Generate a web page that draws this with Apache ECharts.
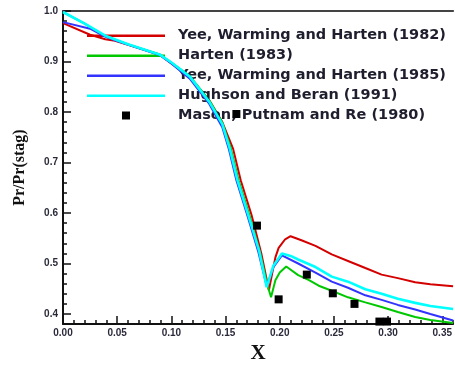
<!DOCTYPE html>
<html>
<head>
<meta charset="utf-8">
<script src="https://cdn.jsdelivr.net/npm/echarts@6/dist/echarts.min.js"></script>
<style>html,body{margin:0;padding:0;background:#fff;}#c{width:455px;height:369px;}</style>
</head>
<body>
<div id="c"></div>
<script>
// Series names
const names = [
  'Yee, Warming and Harten (1982)',
  'Harten (1983)',
  'Yee, Warming and Harten (1985)',
  'Hughson and Beran (1991)',
  'Mason, Putnam and Re (1980)'
];
// [x, Pr/Pr(stag)]
const yee1982 = [[0,0.976],[0.025,0.953],[0.039,0.944],[0.048,0.941],[0.089,0.914],[0.10,0.896],[0.117,0.869],[0.135,0.823],[0.147,0.780],[0.157,0.727],[0.164,0.665],[0.174,0.596],[0.183,0.520],[0.190,0.447],[0.193,0.480],[0.196,0.512],[0.199,0.531],[0.205,0.548],[0.210,0.554],[0.220,0.546],[0.233,0.535],[0.248,0.518],[0.263,0.505],[0.279,0.491],[0.294,0.478],[0.309,0.471],[0.325,0.463],[0.339,0.459],[0.36,0.455]];
const harten1983 = [[0,0.998],[0.02,0.975],[0.039,0.950],[0.06,0.934],[0.089,0.914],[0.10,0.898],[0.117,0.871],[0.135,0.823],[0.147,0.779],[0.155,0.727],[0.162,0.665],[0.172,0.596],[0.182,0.520],[0.188,0.462],[0.192,0.433],[0.196,0.467],[0.200,0.482],[0.206,0.494],[0.217,0.477],[0.227,0.467],[0.236,0.456],[0.248,0.446],[0.263,0.433],[0.279,0.423],[0.294,0.414],[0.309,0.404],[0.325,0.394],[0.339,0.388],[0.36,0.382]];
const yee1985 = [[0,0.978],[0.025,0.965],[0.037,0.951],[0.048,0.942],[0.089,0.913],[0.10,0.896],[0.117,0.866],[0.135,0.816],[0.147,0.770],[0.153,0.727],[0.160,0.665],[0.170,0.596],[0.180,0.525],[0.188,0.455],[0.194,0.492],[0.202,0.516],[0.217,0.500],[0.233,0.482],[0.248,0.464],[0.263,0.452],[0.279,0.437],[0.294,0.428],[0.309,0.418],[0.325,0.409],[0.339,0.400],[0.36,0.387]];
const hughson1991 = [[0,0.998],[0.02,0.975],[0.039,0.951],[0.06,0.934],[0.089,0.914],[0.10,0.898],[0.117,0.870],[0.135,0.820],[0.147,0.776],[0.154,0.727],[0.161,0.665],[0.171,0.596],[0.181,0.525],[0.188,0.453],[0.194,0.495],[0.202,0.520],[0.210,0.515],[0.217,0.508],[0.233,0.493],[0.248,0.474],[0.263,0.464],[0.279,0.449],[0.294,0.440],[0.309,0.430],[0.325,0.422],[0.339,0.416],[0.36,0.410]];
const mason1980 = [[0.160,0.796],[0.179,0.575],[0.199,0.429],[0.225,0.478],[0.249,0.441],[0.269,0.420],[0.292,0.385],[0.299,0.385]];

const xMajor = [0,0.05,0.10,0.15,0.20,0.25,0.30,0.35];
const xMinor = [0.01,0.02,0.03,0.04,0.06,0.07,0.08,0.09,0.11,0.12,0.13,0.14,0.16,0.17,0.18,0.19,0.21,0.22,0.23,0.24,0.26,0.27,0.28,0.29,0.31,0.32,0.33,0.34,0.36];
const yMajor = [0.4,0.5,0.6,0.7,0.8,0.9,1.0];
const yMinor = [0.42,0.44,0.46,0.48,0.52,0.54,0.56,0.58,0.62,0.64,0.66,0.68,0.72,0.74,0.76,0.78,0.82,0.84,0.86,0.88,0.92,0.94,0.96,0.98];

const colors = ['#d40000','#00c800','#3333ff','#00ffff','#000000'];
const widths = [2,2,2,2.6];
const lineData = [yee1982, harten1983, yee1985, hughson1991];

const labelFont = {fontFamily:'Liberation Sans, Arial, sans-serif', fontWeight:'bold', fontSize:10, color:'#2a2a3a'};
const axisBlack = {lineStyle:{color:'#111', width:2}};
const lineIcon = 'path://M0,0L0,0M78,14L78,14M0,6L78,6L78,8.5L0,8.5Z';
const squareIcon = 'path://M0,0L0,0M78,14L78,14M35,3L43,3L43,11L35,11Z';

const chart = echarts.init(document.getElementById('c'), null, {renderer:'canvas'});
const series = lineData.map((d,i)=>({
  name:names[i], type:'line', data:d, symbol:'none', smooth:false,
  lineStyle:{color:colors[i], width:widths[i]}, itemStyle:{color:colors[i]},
  xAxisIndex:0, yAxisIndex:0, animation:false, z:2+i
}));
series.push({
  name:names[4], type:'scatter', data:mason1980, symbol:'rect', symbolSize:8,
  itemStyle:{color:'#000', opacity:1}, xAxisIndex:0, yAxisIndex:0, animation:false, z:10
});

chart.setOption({
  backgroundColor:'#fff',
  animation:false,
  grid:{left:63, right:0, top:11, bottom:42},
  legend:{
    orient:'vertical', left:87, top:28, padding:0, itemWidth:78, itemHeight:14, itemGap:5,
    textStyle:{fontFamily:'DejaVu Sans, sans-serif', fontWeight:'bold', fontSize:14.5, color:'#1e1e2e', lineHeight:14, padding:[0,0,0,8]},
    data:[
      {name:names[0], icon:lineIcon},{name:names[1], icon:lineIcon},{name:names[2], icon:lineIcon},{name:names[3], icon:lineIcon},
      {name:names[4], icon:squareIcon}
    ]
  },
  xAxis:[
    {type:'value', position:'bottom', min:0, max:0.36,
     axisLine:axisBlack,
     axisTick:{show:true, inside:true, length:8, lineStyle:{color:'#111', width:1.5}, customValues:xMajor},
     axisLabel:Object.assign({show:true, margin:4, customValues:xMajor, formatter:v=>v.toFixed(2)}, labelFont),
     splitLine:{show:false},
     name:'X', nameLocation:'middle', nameGap:18,
     nameTextStyle:{fontFamily:'Liberation Serif, Times New Roman, serif', fontWeight:'bold', fontSize:21, color:'#111'}
    },
    {type:'value', position:'bottom', min:0, max:0.36,
     axisLine:{show:false},
     axisTick:{show:true, inside:true, length:4, lineStyle:{color:'#111', width:1.5}, customValues:xMinor},
     axisLabel:{show:false}, splitLine:{show:false}
    },
    {type:'value', position:'top', min:0, max:0.36,
     axisLine:{show:true, lineStyle:{color:'#444', width:2}},
     axisTick:{show:false}, axisLabel:{show:false}, splitLine:{show:false}
    }
  ],
  yAxis:[
    {type:'value', position:'left', min:0.38, max:1.0,
     axisLine:axisBlack,
     axisTick:{show:true, inside:true, length:8, lineStyle:{color:'#111', width:1.5}, customValues:yMajor},
     axisLabel:Object.assign({show:true, margin:5, customValues:yMajor, formatter:v=>v.toFixed(1)}, labelFont),
     splitLine:{show:false},
     name:'Pr/Pr(stag)', nameLocation:'middle', nameGap:35, nameRotate:90,
     nameTextStyle:{fontFamily:'Liberation Serif, Times New Roman, serif', fontWeight:'bold', fontSize:16, color:'#111'}
    },
    {type:'value', position:'left', min:0.38, max:1.0,
     axisLine:{show:false},
     axisTick:{show:true, inside:true, length:4, lineStyle:{color:'#111', width:1.5}, customValues:yMinor},
     axisLabel:{show:false}, splitLine:{show:false}
    }
  ],
  series:series
});
</script>
</body>
</html>
